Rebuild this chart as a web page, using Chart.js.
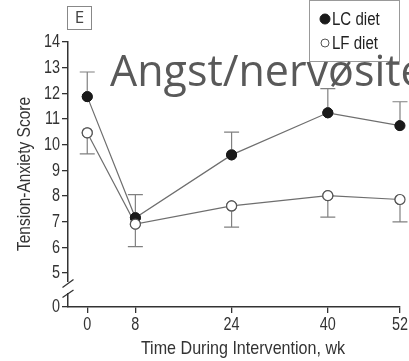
<!DOCTYPE html>
<html>
<head>
<meta charset="utf-8">
<script src="https://cdn.jsdelivr.net/npm/chart.js@4.4.1/dist/chart.umd.min.js"></script>
<style>
  html, body { margin: 0; padding: 0; background: #fff; }
  #wrap { width: 409px; height: 361px; position: relative; }
</style>
</head>
<body>
<div id="wrap"><canvas id="tensionChart"></canvas></div>
<script>
// weeks of intervention
const weeks = [0, 8, 24, 40, 52];
const xTicks = [0, 8, 24, 40, 52];

// low-carbohydrate diet: mean and upper error bound
const lcMean = [11.87, 7.15, 9.6, 11.24, 10.74];
const lcUpper = [12.83, 8.05, 10.49, 12.18, 11.67];

// low-fat diet: mean and lower error bound
const lfMean = [10.46, 6.9, 7.61, 8.01, 7.86];
const lfLower = [9.64, 6.02, 6.78, 7.17, 6.99];

const yTicks = [5, 6, 7, 8, 9, 10, 11, 12, 13, 14];
const yBreakMin = 3.67; // bottom of the broken axis, labelled 0

const sans = '"Liberation Sans", Arial, sans-serif';

const toPoints = (vals) => weeks.map((w, i) => ({ x: w, y: vals[i] }));

// condensed text: squeeze the glyphs horizontally around the anchor
function squeezed(ctx, text, x, y, size, sx, align) {
  ctx.save();
  ctx.font = size + 'px ' + sans;
  ctx.textAlign = align;
  ctx.translate(x, y);
  ctx.scale(sx, 1);
  ctx.fillText(text, 0, 0);
  ctx.restore();
}

// error bars, tick labels, axis break, panel letter, legend box and overlay caption
const extras = {
  id: 'extras',
  afterDatasetsDraw(chart) {
    const { ctx, scales: { x, y } } = chart;
    ctx.save();
    ctx.strokeStyle = '#808080';
    ctx.lineWidth = 1.2;
    const bar = (w, from, to) => {
      const px = x.getPixelForValue(w);
      const y1 = y.getPixelForValue(from), y2 = y.getPixelForValue(to);
      ctx.beginPath();
      ctx.moveTo(px, y1); ctx.lineTo(px, y2);
      ctx.moveTo(px - 7.5, y2); ctx.lineTo(px + 7.5, y2);
      ctx.stroke();
    };
    weeks.forEach((w, i) => {
      bar(w, lcMean[i], lcUpper[i]);
      bar(w, lfMean[i], lfLower[i]);
    });
    ctx.restore();
    // redraw markers above the error bars
    chart.getSortedVisibleDatasetMetas().forEach(m => {
      m.data.forEach(pt => pt.draw(ctx, chart.chartArea));
    });
  },
  afterDraw(chart) {
    const { ctx, scales: { x, y } } = chart;
    const ax = y.right;
    ctx.save();
    ctx.fillStyle = '#333';
    ctx.textBaseline = 'middle';
    // tick labels
    y.ticks.forEach(t => {
      const label = t.value === yBreakMin ? '0' : String(t.value);
      squeezed(ctx, label, ax - 8, y.getPixelForValue(t.value) + 0.5, 18, 0.8, 'right');
    });
    x.ticks.forEach(t => {
      squeezed(ctx, String(t.value), x.getPixelForValue(t.value), 325, 18, 0.8, 'center');
    });

    // break in the y axis
    ctx.fillStyle = '#fff';
    ctx.fillRect(ax - 2, 282, 4, 11);
    ctx.strokeStyle = '#333';
    ctx.lineWidth = 1.3;
    ctx.beginPath();
    ctx.moveTo(ax - 5.5, 287.5); ctx.lineTo(ax + 5.5, 279.5);
    ctx.moveTo(ax - 5.5, 297.5); ctx.lineTo(ax + 5.5, 290);
    ctx.stroke();

    // panel letter
    ctx.strokeStyle = '#888';
    ctx.lineWidth = 1;
    ctx.strokeRect(67.5, 6.5, 24, 23);
    ctx.fillStyle = '#444';
    ctx.font = '17px "Open Sans", sans-serif';
    ctx.textAlign = 'center';
    ctx.fillText('E', 79.5, 18.5);

    // legend
    ctx.fillStyle = '#fff';
    ctx.fillRect(309, 0, 91, 62);
    ctx.strokeStyle = '#999';
    ctx.strokeRect(309.5, 0.5, 90, 61);
    chart.data.datasets.forEach((ds, i) => {
      const cy = 19 + i * 24;
      ctx.beginPath();
      ctx.arc(325, cy, i === 0 ? 5 : 4, 0, Math.PI * 2);
      ctx.fillStyle = ds.pointBackgroundColor;
      ctx.fill();
      ctx.strokeStyle = ds.pointBorderColor;
      ctx.lineWidth = 1;
      ctx.stroke();
      ctx.fillStyle = '#222';
      squeezed(ctx, ds.label, 332, cy + 1, 17.5, 0.86, 'left');
    });

    // axis titles
    ctx.fillStyle = '#333';
    squeezed(ctx, 'Time During Intervention, wk', 243, 349, 18.5, 0.87, 'center');
    ctx.save();
    ctx.translate(25, 174);
    ctx.rotate(-Math.PI / 2);
    squeezed(ctx, 'Tension-Anxiety Score', 0, 0, 18, 0.86, 'center');
    ctx.restore();

    // caption laid over the plot
    ctx.fillStyle = '#595959';
    ctx.font = '43px "Open Sans", sans-serif';
    ctx.textAlign = 'left';
    ctx.textBaseline = 'alphabetic';
    ctx.fillText('Angst/nervøsitet', 110, 86);
    ctx.restore();
  }
};

new Chart(document.getElementById('tensionChart'), {
  type: 'line',
  data: {
    datasets: [{
      label: 'LC diet',
      data: toPoints(lcMean),
      borderColor: '#6e6e6e',
      borderWidth: 1.2,
      pointRadius: 5,
      pointBackgroundColor: '#1a1a1a',
      pointBorderColor: '#1a1a1a',
      pointBorderWidth: 1
    }, {
      label: 'LF diet',
      data: toPoints(lfMean),
      borderColor: '#6e6e6e',
      borderWidth: 1.2,
      pointRadius: 5,
      pointBackgroundColor: '#ffffff',
      pointBorderColor: '#555',
      pointBorderWidth: 1.2
    }]
  },
  options: {
    responsive: true,
    maintainAspectRatio: false,
    animation: false,
    layout: { padding: { top: 42, right: 9, bottom: 0, left: 0 } },
    plugins: { legend: { display: false }, tooltip: { enabled: false } },
    scales: {
      x: {
        type: 'linear',
        min: -3.2,
        max: 52,
        afterBuildTicks: (s) => { s.ticks = xTicks.map(v => ({ value: v })); },
        afterFit: (s) => { s.height = 54; },
        grid: { drawOnChartArea: false, drawTicks: true, tickLength: 6, color: '#333', lineWidth: 1.3 },
        border: { color: '#333', width: 1.5 },
        ticks: { display: false }
      },
      y: {
        min: yBreakMin,
        max: 14,
        afterBuildTicks: (s) => { s.ticks = [yBreakMin, ...yTicks].map(v => ({ value: v })); },
        afterFit: (s) => { s.width = 68; },
        grid: { drawOnChartArea: false, drawTicks: true, tickLength: 6, color: '#333', lineWidth: 1.3 },
        border: { color: '#333', width: 1.5 },
        ticks: { display: false }
      }
    }
  },
  plugins: [extras]
});
</script>
</body>
</html>
